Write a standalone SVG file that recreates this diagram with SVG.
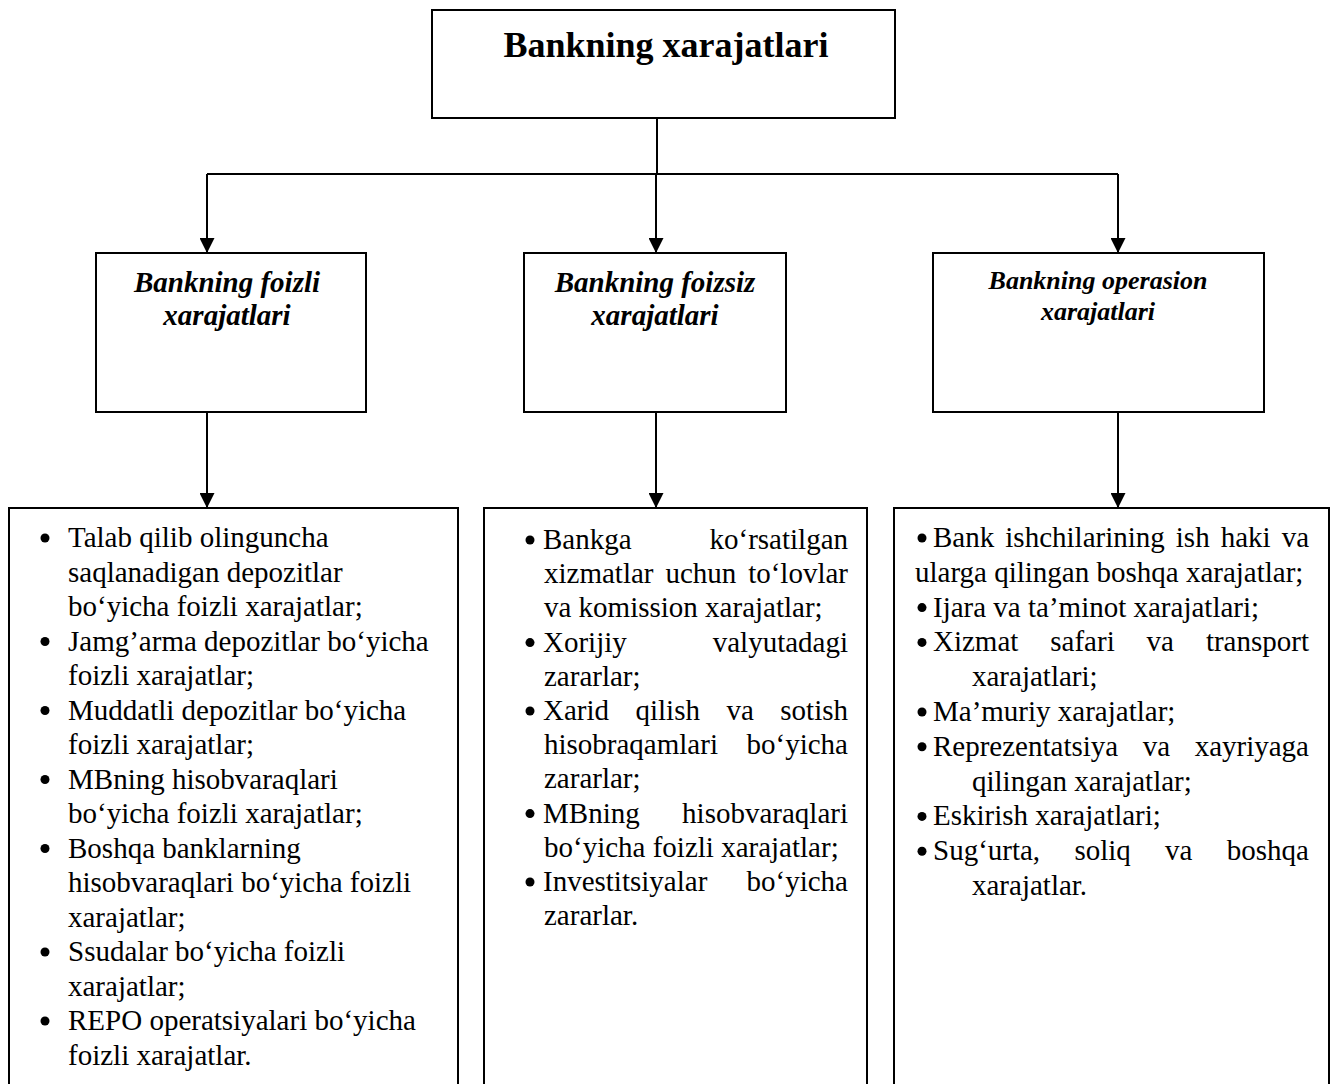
<svg xmlns="http://www.w3.org/2000/svg" xmlns:xlink="http://www.w3.org/1999/xlink" width="1334" height="1084" viewBox="0 0 1334 1084">
  <style>
    .box { fill: #fff; stroke: #000; stroke-width: 2; }
    .conn { fill: none; stroke: #000; stroke-width: 2; }
    .title { font-family: "Liberation Serif", "Times New Roman", serif; font-size: 36px; font-weight: bold; fill: #000; }
    .sub { font-family: "Liberation Serif", "Times New Roman", serif; font-size: 29px; font-weight: bold; font-style: italic; fill: #000; }
    .sub.small { font-size: 26px; }
    .body { font-family: "Liberation Serif", "Times New Roman", serif; font-size: 29px; fill: #000; }
    .end { text-anchor: end; }
    .mid { text-anchor: middle; }
  </style>
  <defs>
    <marker id="arrow" viewBox="0 0 10 10" refX="10" refY="5" markerWidth="15" markerHeight="15" markerUnits="userSpaceOnUse" orient="auto">
      <path d="M0,0 L10,5 L0,10 z" fill="#000"/>
    </marker>
    <circle id="dot" r="4.5" fill="#000"/>
  </defs>

  <rect width="1334" height="1084" fill="#fff"/>

  <!-- connectors -->
  <g id="connectors">
    <path class="conn" d="M657,118 V174"/>
    <path class="conn" d="M207,174 H1118"/>
    <path class="conn" d="M207,174 V253" marker-end="url(#arrow)"/>
    <path class="conn" d="M656,174 V253" marker-end="url(#arrow)"/>
    <path class="conn" d="M1118,174 V253" marker-end="url(#arrow)"/>
    <path class="conn" d="M207,412 V508" marker-end="url(#arrow)"/>
    <path class="conn" d="M656,412 V508" marker-end="url(#arrow)"/>
    <path class="conn" d="M1118,412 V508" marker-end="url(#arrow)"/>
  </g>

  <!-- root -->
  <g id="root">
    <rect class="box" x="432" y="10" width="463" height="108"/>
    <text class="title mid" x="666" y="57">Bankning xarajatlari</text>
  </g>

  <!-- second level -->
  <g id="foizli">
    <rect class="box" x="96" y="253" width="270" height="159"/>
    <text class="sub mid" x="227" y="292">Bankning foizli</text>
    <text class="sub mid" x="227" y="325">xarajatlari</text>
  </g>
  <g id="foizsiz">
    <rect class="box" x="524" y="253" width="262" height="159"/>
    <text class="sub mid" x="655" y="292">Bankning foizsiz</text>
    <text class="sub mid" x="655" y="325">xarajatlari</text>
  </g>
  <g id="operasion">
    <rect class="box" x="933" y="253" width="331" height="159"/>
    <text class="sub small mid" x="1098" y="289">Bankning operasion</text>
    <text class="sub small mid" x="1098" y="320">xarajatlari</text>
  </g>

  <!-- detail lists -->
  <g id="foizli-list">
    <rect class="box" x="9" y="508" width="449" height="590"/>
    <use xlink:href="#dot" x="45" y="538"/>
    <use xlink:href="#dot" x="45" y="641.5"/>
    <use xlink:href="#dot" x="45" y="710.5"/>
    <use xlink:href="#dot" x="45" y="779.5"/>
    <use xlink:href="#dot" x="45" y="848.5"/>
    <use xlink:href="#dot" x="45" y="952"/>
    <use xlink:href="#dot" x="45" y="1021"/>
    <text class="body" x="68" y="547">Talab qilib olinguncha</text>
    <text class="body" x="68" y="581.5">saqlanadigan depozitlar</text>
    <text class="body" x="68" y="616">bo‘yicha foizli xarajatlar;</text>
    <text class="body" x="68" y="650.5">Jamg’arma depozitlar bo‘yicha</text>
    <text class="body" x="68" y="685">foizli xarajatlar;</text>
    <text class="body" x="68" y="719.5">Muddatli depozitlar bo‘yicha</text>
    <text class="body" x="68" y="754">foizli xarajatlar;</text>
    <text class="body" x="68" y="788.5">MBning hisobvaraqlari</text>
    <text class="body" x="68" y="823">bo‘yicha foizli xarajatlar;</text>
    <text class="body" x="68" y="857.5">Boshqa banklarning</text>
    <text class="body" x="68" y="892">hisobvaraqlari bo‘yicha foizli</text>
    <text class="body" x="68" y="926.5">xarajatlar;</text>
    <text class="body" x="68" y="961">Ssudalar bo‘yicha foizli</text>
    <text class="body" x="68" y="995.5">xarajatlar;</text>
    <text class="body" x="68" y="1030">REPO operatsiyalari bo‘yicha</text>
    <text class="body" x="68" y="1064.5">foizli xarajatlar.</text>
  </g>

  <g id="foizsiz-list">
    <rect class="box" x="484" y="508" width="383" height="590"/>
    <use xlink:href="#dot" x="530" y="540"/>
    <use xlink:href="#dot" x="530" y="642.6"/>
    <use xlink:href="#dot" x="530" y="711"/>
    <use xlink:href="#dot" x="530" y="813.6"/>
    <use xlink:href="#dot" x="530" y="882"/>
    <!-- 1 -->
    <text class="body" x="543" y="549">Bankga</text>
    <text class="body end" x="848" y="549">ko‘rsatilgan</text>
    <text class="body" x="544" y="583.2">xizmatlar</text>
    <text class="body" x="665.4" y="583.2">uchun</text>
    <text class="body end" x="848" y="583.2">to‘lovlar</text>
    <text class="body" x="544" y="617.4">va komission xarajatlar;</text>
    <!-- 2 -->
    <text class="body" x="543" y="651.6">Xorijiy</text>
    <text class="body end" x="848" y="651.6">valyutadagi</text>
    <text class="body" x="544" y="685.8">zararlar;</text>
    <!-- 3 -->
    <text class="body" x="543" y="720">Xarid</text>
    <text class="body" x="635.5" y="720">qilish</text>
    <text class="body" x="726.5" y="720">va</text>
    <text class="body end" x="848" y="720">sotish</text>
    <text class="body" x="544" y="754.2">hisobraqamlari</text>
    <text class="body end" x="848" y="754.2">bo‘yicha</text>
    <text class="body" x="544" y="788.4">zararlar;</text>
    <!-- 4 -->
    <text class="body" x="543" y="822.6">MBning</text>
    <text class="body end" x="848" y="822.6">hisobvaraqlari</text>
    <text class="body" x="544" y="856.8">bo‘yicha foizli xarajatlar;</text>
    <!-- 5 -->
    <text class="body" x="543" y="891">Investitsiyalar</text>
    <text class="body end" x="848" y="891">bo‘yicha</text>
    <text class="body" x="544" y="925.2">zararlar.</text>
  </g>

  <g id="operasion-list">
    <rect class="box" x="894" y="508" width="435" height="590"/>
    <use xlink:href="#dot" x="922" y="538"/>
    <use xlink:href="#dot" x="922" y="607.6"/>
    <use xlink:href="#dot" x="922" y="642.4"/>
    <use xlink:href="#dot" x="922" y="712"/>
    <use xlink:href="#dot" x="922" y="746.8"/>
    <use xlink:href="#dot" x="922" y="816.4"/>
    <use xlink:href="#dot" x="922" y="851.2"/>
    <!-- 1 -->
    <text class="body" x="933" y="547">Bank</text>
    <text class="body" x="1005.3" y="547">ishchilarining</text>
    <text class="body" x="1175.8" y="547">ish</text>
    <text class="body" x="1220.7" y="547">haki</text>
    <text class="body end" x="1309" y="547">va</text>
    <text class="body" x="915" y="581.8">ularga qilingan boshqa xarajatlar;</text>
    <!-- 2 -->
    <text class="body" x="933" y="616.6">Ijara va ta’minot xarajatlari;</text>
    <!-- 3 -->
    <text class="body" x="933" y="651.4">Xizmat</text>
    <text class="body" x="1050.3" y="651.4">safari</text>
    <text class="body" x="1146.6" y="651.4">va</text>
    <text class="body end" x="1309" y="651.4">transport</text>
    <text class="body" x="972" y="686.2">xarajatlari;</text>
    <!-- 4 -->
    <text class="body" x="933" y="721">Ma’muriy xarajatlar;</text>
    <!-- 5 -->
    <text class="body" x="933" y="755.8">Reprezentatsiya</text>
    <text class="body" x="1142.7" y="755.8">va</text>
    <text class="body end" x="1309" y="755.8">xayriyaga</text>
    <text class="body" x="972" y="790.6">qilingan xarajatlar;</text>
    <!-- 6 -->
    <text class="body" x="933" y="825.4">Eskirish xarajatlari;</text>
    <!-- 7 -->
    <text class="body" x="933" y="860.2">Sug‘urta,</text>
    <text class="body" x="1074.4" y="860.2">soliq</text>
    <text class="body" x="1165.1" y="860.2">va</text>
    <text class="body end" x="1309" y="860.2">boshqa</text>
    <text class="body" x="972" y="895">xarajatlar.</text>
  </g>
</svg>
